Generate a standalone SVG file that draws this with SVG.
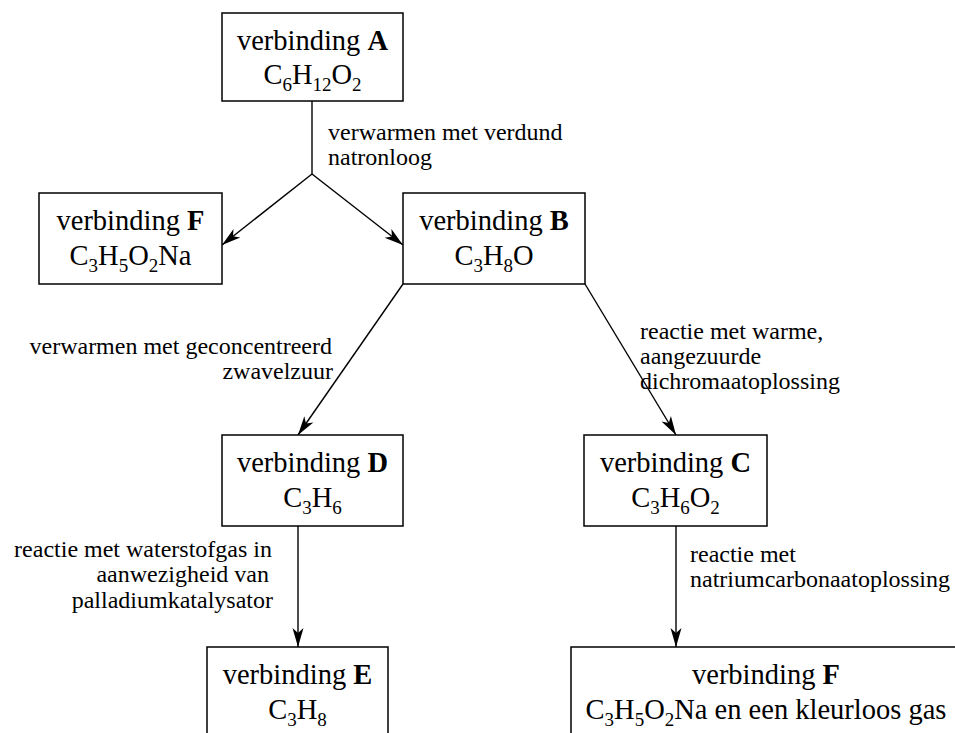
<svg xmlns="http://www.w3.org/2000/svg" width="955" height="733" viewBox="0 0 955 733">
<style>
.box{fill:#fff;stroke:#000;stroke-width:1.5}
text{font-family:'Liberation Serif','Times New Roman','DejaVu Serif',serif;fill:#000}
.t{font-size:28.5px;text-anchor:middle}
.l{font-size:24px}
.r{text-anchor:end}
.s{font-size:19px}
.b{font-weight:bold}
.c{fill:none;stroke:#000;stroke-width:1.4}
</style>
<defs>
<marker id="ah" markerUnits="userSpaceOnUse" markerWidth="24" markerHeight="14" viewBox="-20 -7 22 14" refX="0" refY="0" orient="auto">
<path d="M0,0 L-19,-5.5 L-14,0 L-19,5.5 Z" fill="#000"/>
</marker>
</defs>
<rect width="955" height="733" fill="#fff"/>
<g id="connectors">
<polyline class="c" points="312,101 312,174"/>
<line class="c" x1="312" y1="174" x2="222" y2="245" marker-end="url(#ah)"/>
<line class="c" x1="312" y1="174" x2="403" y2="245" marker-end="url(#ah)"/>
<line class="c" x1="403" y1="284" x2="298" y2="435" marker-end="url(#ah)"/>
<line class="c" x1="585" y1="284" x2="676" y2="435" marker-end="url(#ah)"/>
<line class="c" x1="298" y1="526" x2="298" y2="647" marker-end="url(#ah)"/>
<line class="c" x1="676" y1="526" x2="676" y2="647" marker-end="url(#ah)"/>
</g>
<g id="labels">
<text class="l" x="328" y="140">verwarmen met verdund</text>
<text class="l" x="328" y="165">natronloog</text>
<text class="l r" x="332" y="354">verwarmen met geconcentreerd</text>
<text class="l r" x="333" y="379">zwavelzuur</text>
<text class="l" x="640" y="339">reactie met warme,</text>
<text class="l" x="640" y="364">aangezuurde</text>
<text class="l" x="640" y="389">dichromaatoplossing</text>
<text class="l r" x="272" y="557">reactie met waterstofgas in</text>
<text class="l r" x="269" y="582">aanwezigheid van</text>
<text class="l r" x="273" y="608">palladiumkatalysator</text>
<text class="l" x="690" y="562">reactie met</text>
<text class="l" x="690" y="587">natriumcarbonaatoplossing</text>
</g>
<g id="nodeA">
<rect class="box" x="222" y="13" width="181" height="88"/>
<text class="t" x="312.5" y="50">verbinding <tspan class="b">A</tspan></text>
<text class="t" x="312.5" y="84">C<tspan class="s" dy="7">6</tspan><tspan dy="-7">H</tspan><tspan class="s" dy="7">12</tspan><tspan dy="-7">O</tspan><tspan class="s" dy="7">2</tspan></text>
</g>
<g id="nodeF1">
<rect class="box" x="39" y="193" width="183" height="91"/>
<text class="t" x="130.5" y="230">verbinding <tspan class="b">F</tspan></text>
<text class="t" x="130.5" y="265">C<tspan class="s" dy="7">3</tspan><tspan dy="-7">H</tspan><tspan class="s" dy="7">5</tspan><tspan dy="-7">O</tspan><tspan class="s" dy="7">2</tspan><tspan dy="-7">Na</tspan></text>
</g>
<g id="nodeB">
<rect class="box" x="403" y="193" width="182" height="91"/>
<text class="t" x="494" y="230">verbinding <tspan class="b">B</tspan></text>
<text class="t" x="494" y="265">C<tspan class="s" dy="7">3</tspan><tspan dy="-7">H</tspan><tspan class="s" dy="7">8</tspan><tspan dy="-7">O</tspan></text>
</g>
<g id="nodeD">
<rect class="box" x="222" y="435" width="181" height="91"/>
<text class="t" x="312.5" y="472">verbinding <tspan class="b">D</tspan></text>
<text class="t" x="312.5" y="507">C<tspan class="s" dy="7">3</tspan><tspan dy="-7">H</tspan><tspan class="s" dy="7">6</tspan></text>
</g>
<g id="nodeC">
<rect class="box" x="584" y="435" width="183" height="91"/>
<text class="t" x="675.5" y="472">verbinding <tspan class="b">C</tspan></text>
<text class="t" x="675.5" y="507">C<tspan class="s" dy="7">3</tspan><tspan dy="-7">H</tspan><tspan class="s" dy="7">6</tspan><tspan dy="-7">O</tspan><tspan class="s" dy="7">2</tspan></text>
</g>
<g id="nodeE">
<rect class="box" x="207" y="647" width="181" height="100"/>
<text class="t" x="297.5" y="684">verbinding <tspan class="b">E</tspan></text>
<text class="t" x="297.5" y="719">C<tspan class="s" dy="7">3</tspan><tspan dy="-7">H</tspan><tspan class="s" dy="7">8</tspan></text>
</g>
<g id="nodeF2">
<rect class="box" x="571" y="647" width="400" height="100"/>
<text class="t" x="766" y="684">verbinding <tspan class="b">F</tspan></text>
<text class="t" x="766" y="719">C<tspan class="s" dy="7">3</tspan><tspan dy="-7">H</tspan><tspan class="s" dy="7">5</tspan><tspan dy="-7">O</tspan><tspan class="s" dy="7">2</tspan><tspan dy="-7">Na en een kleurloos gas</tspan></text>
</g>
</svg>
